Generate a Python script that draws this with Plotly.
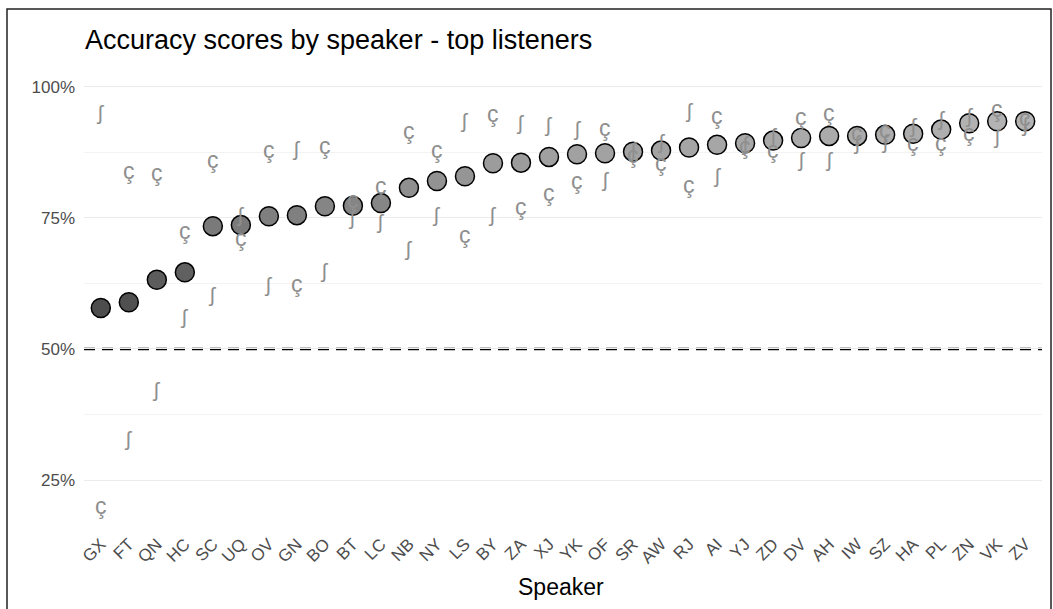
import plotly.graph_objects as go

# Speakers ordered by mean accuracy across the top listeners
speakers = ["GX", "FT", "QN", "HC", "SC", "UQ", "OV", "GN", "BO", "BT", "LC", "NB",
            "NY", "LS", "BY", "ZA", "XJ", "YK", "OF", "SR", "AW", "RJ", "AI", "YJ",
            "ZD", "DV", "AH", "IW", "SZ", "HA", "PL", "ZN", "VK", "ZV"]

# Mean accuracy (%) per speaker
mean_acc = [57.8, 58.9, 63.2, 64.6, 73.4, 73.6, 75.3, 75.5, 77.2, 77.3, 77.8, 80.7,
            82.0, 82.9, 85.4, 85.5, 86.6, 87.1, 87.3, 87.6, 87.8, 88.4, 88.9, 89.2,
            89.7, 90.2, 90.6, 90.6, 90.8, 91.0, 91.8, 93.0, 93.4, 93.4]

# Accuracy (%) of listener "ʃ"
esh_acc = [95.7, 33.6, 42.8, 56.8, 60.9, 76.1, 62.8, 88.7, 65.5, 75.6, 74.8, 69.7,
           76.1, 94.1, 76.1, 93.7, 93.4, 92.5, 82.8, 88.5, 90.1, 96.1, 83.7, 89.7,
           91.2, 86.6, 86.6, 89.9, 90.1, 93.1, 94.4, 95.0, 91.1, 93.4]

# Accuracy (%) of listener "ç"
cedilla_acc = [20.1, 83.9, 83.6, 72.5, 86.0, 71.2, 88.0, 62.3, 88.7, 78.3, 81.0, 91.5,
               88.0, 71.7, 94.7, 77.1, 79.8, 82.0, 92.2, 86.9, 85.5, 81.2, 94.4, 88.7,
               88.0, 94.2, 94.9, 91.1, 91.7, 89.2, 89.2, 91.2, 95.8, 94.1]

y_ticks = [25, 50, 75, 100]
y_tick_text = ["25%", "50%", "75%", "100%"]
minor_ticks = [37.5, 62.5, 87.5]

FONT = "Liberation Sans, Arial, Helvetica, DejaVu Sans, sans-serif"
GLYPH_FONT = "Liberation Sans, DejaVu Sans, sans-serif"
GLYPH_COLOR = "#8f8f8f"

W, H = 1053, 609
L, R, T, B = 84, 11, 85, 79
plot_w = W - L - R
plot_h = H - T - B

fig = go.Figure()

fig.add_trace(go.Scatter(
    x=speakers, y=mean_acc, mode="markers",
    marker=dict(size=19, color=mean_acc,
                colorscale=[[0, "#4d4d4d"], [1, "#b3b3b3"]],
                line=dict(color="black", width=1.5)),
    showlegend=False, hoverinfo="x+y",
))

# Listener glyphs, drawn over the speaker means
for spk, v in zip(speakers, esh_acc):
    fig.add_annotation(x=spk, y=v, xref="x", yref="y", text="ʃ", showarrow=False,
                       xanchor="center", yanchor="middle", yshift=-3,
                       font=dict(size=21, color=GLYPH_COLOR, family=GLYPH_FONT))
for spk, v in zip(speakers, cedilla_acc):
    fig.add_annotation(x=spk, y=v, xref="x", yref="y", text="ç", showarrow=False,
                       xanchor="center", yanchor="middle", yshift=0,
                       font=dict(size=23, color=GLYPH_COLOR, family=GLYPH_FONT))

# Chance level
fig.add_shape(type="line", xref="paper", x0=0, x1=1, yref="y", y0=50, y1=50,
              line=dict(color="black", width=2.5, dash="11px,7px"), layer="below")

# Outer frame
fig.add_shape(type="rect", xref="paper", yref="paper",
              x0=(7 - L) / plot_w, x1=(1051 - L) / plot_w,
              y0=-(H + 5 - (H - B)) / plot_h, y1=1 + (T - 9) / plot_h,
              line=dict(color="#222222", width=1.5), fillcolor="rgba(0,0,0,0)")

fig.add_annotation(text="Speaker", xref="paper", yref="paper",
                   x=(561 - L) / plot_w, y=-(587 - (H - B)) / plot_h,
                   xanchor="center", yanchor="middle", showarrow=False,
                   font=dict(size=23, color="black", family=FONT))

fig.update_layout(
    width=W, height=H,
    margin=dict(l=L, r=R, t=T, b=B),
    paper_bgcolor="white", plot_bgcolor="white",
    title=dict(text="Accuracy scores by speaker - top listeners",
               x=85 / W, xanchor="left", xref="container",
               y=1 - 40 / H, yanchor="middle", yref="container",
               font=dict(size=27, color="black", family=FONT)),
    font=dict(family=FONT),
    xaxis=dict(type="category", range=[-0.6, len(speakers) - 0.4],
               showgrid=False, zeroline=False, showline=False, ticks="",
               tickangle=-45, tickfont=dict(size=17, color="#4d4d4d", family=FONT)),
    yaxis=dict(range=[15.5, 100.3], tickvals=y_ticks, ticktext=y_tick_text,
               showgrid=True, gridcolor="#ebebeb", gridwidth=1.3,
               zeroline=False, showline=False, ticks="",
               ticklabelstandoff=8,
               tickfont=dict(size=17, color="#4d4d4d", family=FONT),
               minor=dict(tickvals=minor_ticks, showgrid=True,
                          gridcolor="#f3f3f3", gridwidth=0.8)),
)

fig.write_html("out.html")
